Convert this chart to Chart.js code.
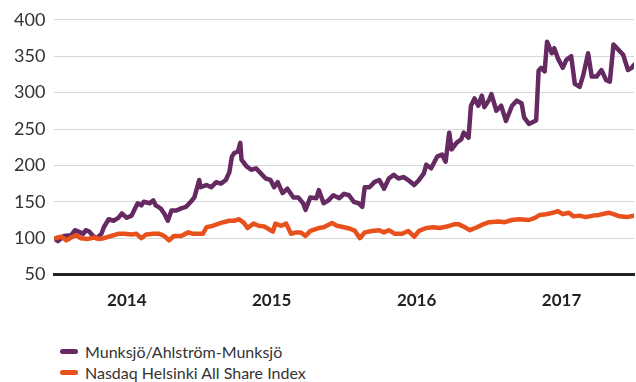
<!DOCTYPE html>
<html>
<head>
<meta charset="utf-8">
<script src="https://cdn.jsdelivr.net/npm/chart.js@4.4.1/dist/chart.umd.min.js"></script>
<style>
  html, body { margin: 0; padding: 0; background: #fff; }
  #wrap { position: relative; width: 636px; height: 382px; }
  #box { position: absolute; left: 0; top: 0; width: 636px; height: 331px; }
  #legend { position: absolute; left: 60px; top: 341px; font-family: Lato, sans-serif; font-size: 16px; color: #333; }
  #legend .row { display: flex; align-items: center; height: 21px; }
  #legend .mark { width: 18px; height: 5px; border-radius: 3px; margin-right: 7px; }
</style>
</head>
<body>
<div id="wrap">
  <div id="box"><canvas id="shareChart"></canvas></div>
  <div id="legend"></div>
</div>
<script>
// months since start of 2014
const munksjoMonths = [0.0, 0.3, 0.8, 1.4, 1.7, 2.0, 2.4, 2.6, 2.9, 3.2, 3.5, 3.9, 4.1, 4.5, 4.9, 5.3, 5.6, 6.0, 6.4, 6.6,
  6.9, 7.2, 7.4, 7.9, 8.2, 8.4, 8.8, 9.1, 9.4, 9.7, 10.1, 10.5, 10.9, 11.3, 11.6, 12.0, 12.1, 12.6, 13.0, 13.4,
  13.8, 14.2, 14.5, 14.7, 14.9, 15.2, 15.4, 15.5, 15.9, 16.3, 16.7, 17.1, 17.5, 17.9, 18.2, 18.5, 18.9, 19.3, 19.8, 20.2,
  20.6, 20.8, 21.2, 21.7, 21.9, 22.3, 22.7, 23.1, 23.6, 24.0, 24.4, 24.8, 25.2, 25.5, 25.7, 26.1, 26.5, 26.9, 27.3, 27.7,
  28.1, 28.5, 28.9, 29.3, 29.8, 30.2, 30.6, 30.8, 31.2, 31.7, 32.1, 32.4, 32.7, 32.9, 33.3, 33.7, 33.9, 34.3, 34.5, 34.8,
  35.1, 35.4, 35.6, 36.0, 36.2, 36.6, 37.0, 37.4, 37.9, 38.3, 38.7, 38.9, 39.3, 39.8, 39.9, 40.1, 40.3, 40.6, 40.8, 41.2,
  41.4, 41.7, 42.1, 42.4, 42.8, 43.1, 43.5, 43.8, 44.2, 44.5, 44.9, 45.3, 45.7, 46.0, 46.3, 46.7, 47.1, 47.5, 47.8, 48.0];
const munksjoValues = [99, 96, 103, 104, 111, 109, 106, 111, 109, 103, 100, 106, 115, 126, 124, 128, 134, 128, 131, 138,
  148, 145, 150, 148, 152, 145, 141, 134, 124, 138, 138, 141, 143, 150, 156, 180, 170, 173, 170, 177,
  175, 180, 191, 212, 217, 219, 231, 208, 199, 194, 196, 189, 182, 180, 170, 177, 162, 168, 156, 156,
  148, 139, 156, 155, 166, 148, 152, 159, 155, 161, 159, 150, 148, 143, 170, 170, 177, 180, 168, 182,
  187, 182, 184, 180, 173, 180, 189, 201, 196, 212, 215, 205, 245, 222, 231, 236, 245, 238, 282, 292,
  282, 296, 280, 290, 298, 275, 282, 261, 282, 289, 285, 266, 257, 261, 262, 330, 334, 329, 370, 354,
  361, 347, 334, 345, 350, 312, 308, 324, 354, 322, 322, 331, 317, 315, 366, 359, 352, 331, 334, 338];

const helsinkiMonths = [0.0, 0.6, 1.0, 1.4, 1.8, 2.2, 2.8, 3.3, 3.7, 4.1, 4.7, 5.3, 5.8, 6.4, 6.8, 7.2, 7.6, 8.2, 8.7, 9.1,
  9.5, 9.9, 10.5, 11.1, 11.5, 11.9, 12.3, 12.6, 13.1, 13.8, 14.5, 14.9, 15.3, 15.7, 16.0, 16.5, 16.9, 17.4, 17.7, 18.1,
  18.3, 18.8, 19.2, 19.6, 20.0, 20.4, 20.8, 21.2, 21.9, 22.3, 23.0, 23.4, 24.0, 24.5, 24.9, 25.3, 25.7, 26.3, 26.9, 27.3,
  27.7, 28.2, 28.8, 29.3, 29.8, 30.2, 30.8, 31.4, 31.9, 32.5, 33.1, 33.5, 34.0, 34.4, 35.0, 35.5, 36.0, 36.8, 37.3, 37.9,
  38.5, 39.3, 39.8, 40.2, 40.7, 41.3, 41.7, 42.1, 42.6, 43.0, 43.5, 44.0, 44.6, 45.1, 45.9, 46.3, 46.8, 47.4, 48.0];
const helsinkiValues = [100, 102, 97, 101, 104, 100, 99, 101, 99, 100, 103, 106, 106, 105, 106, 100, 105, 106, 106, 103,
  97, 103, 103, 108, 106, 106, 106, 115, 117, 121, 124, 124, 126, 121, 114, 120, 117, 116, 113, 109,
  120, 117, 120, 106, 108, 108, 103, 110, 114, 115, 121, 117, 115, 113, 110, 100, 108, 110, 111, 108,
  111, 106, 106, 110, 102, 110, 114, 115, 114, 116, 119, 119, 115, 111, 115, 119, 122, 123, 122, 125,
  126, 125, 128, 132, 133, 135, 137, 133, 135, 130, 131, 129, 131, 132, 135, 133, 130, 129, 131];

const yearLabels = ['2014', '2015', '2016', '2017'];
const seriesNames = ['Munksjö/Ahlström-Munksjö', 'Nasdaq Helsinki All Share Index'];
const seriesColors = ['#662a63', '#e8501c'];

function toPoints(xs, ys) {
  return xs.map((x, i) => ({ x: x, y: ys[i] }));
}

const ctx = document.getElementById('shareChart').getContext('2d');

new Chart(ctx, {
  type: 'line',
  data: {
    datasets: [
      {
        label: seriesNames[1],
        data: toPoints(helsinkiMonths, helsinkiValues),
        borderColor: seriesColors[1],
        borderWidth: 4.5,
        pointRadius: 0,
        tension: 0,
        borderJoinStyle: 'round',
        borderCapStyle: 'round'
      },
      {
        label: seriesNames[0],
        data: toPoints(munksjoMonths, munksjoValues),
        borderColor: seriesColors[0],
        borderWidth: 4.5,
        pointRadius: 0,
        tension: 0,
        borderJoinStyle: 'round',
        borderCapStyle: 'round'
      }
    ]
  },
  options: {
    responsive: true,
    maintainAspectRatio: false,
    animation: false,
    layout: { padding: { left: 5, right: 2, top: 19, bottom: 4 } },
    plugins: {
      legend: { display: false },
      tooltip: { enabled: false }
    },
    scales: {
      x: {
        type: 'linear',
        min: 0,
        max: 48,
        afterBuildTicks: function (scale) {
          scale.ticks = yearLabels.map((_, i) => ({ value: i * 12 + 6 }));
        },
        grid: { display: false, drawTicks: false },
        border: { display: true, color: '#222', width: 3 },
        ticks: {
          padding: 16,
          color: '#222',
          font: { family: 'Lato', size: 17, weight: 'bold' },
          callback: function (value) {
            return yearLabels[Math.round((value - 6) / 12)];
          }
        }
      },
      y: {
        min: 50,
        max: 400,
        grid: {
          display: true,
          drawTicks: false,
          color: '#d8d8d8',
          lineWidth: 1
        },
        border: { display: false },
        ticks: {
          stepSize: 50,
          padding: 9,
          color: '#333',
          font: { family: 'Lato', size: 18 }
        }
      }
    }
  }
});

// legend rows under the chart
const legendEl = document.getElementById('legend');
seriesNames.forEach(function (name, i) {
  const row = document.createElement('div');
  row.className = 'row';
  const mark = document.createElement('span');
  mark.className = 'mark';
  mark.style.background = seriesColors[i];
  const txt = document.createElement('span');
  txt.textContent = name;
  row.appendChild(mark);
  row.appendChild(txt);
  legendEl.appendChild(row);
});
</script>
</body>
</html>
